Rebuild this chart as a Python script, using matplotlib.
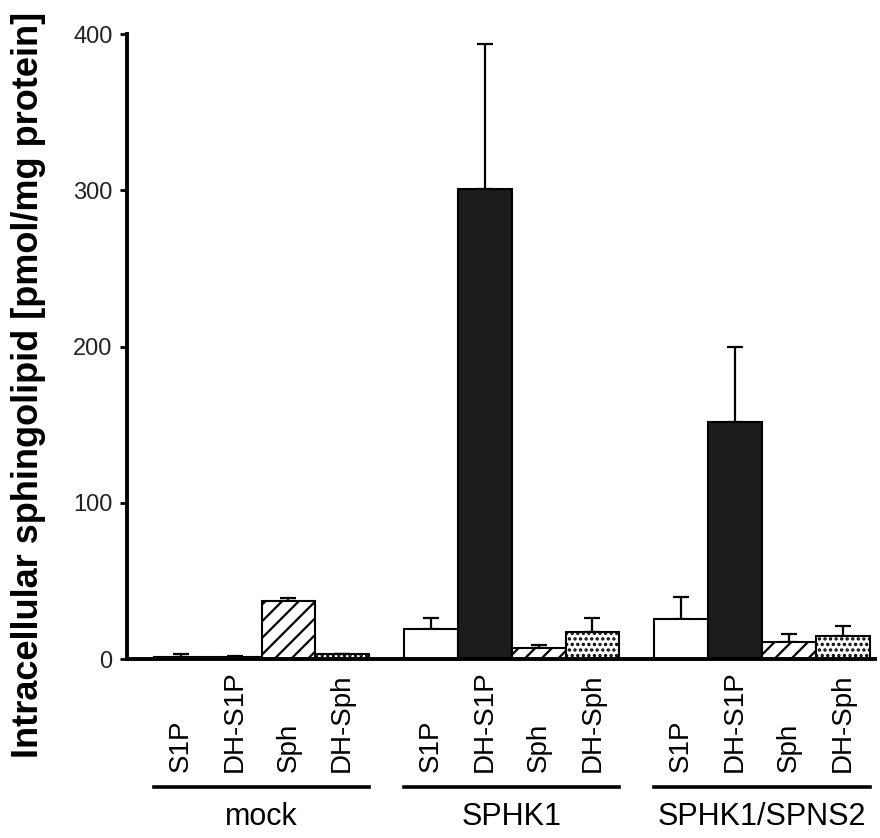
import numpy as np
import matplotlib
matplotlib.use("Agg")
import matplotlib.pyplot as plt
from matplotlib.transforms import blended_transform_factory

groups = ['mock', 'SPHK1', 'SPHK1/SPNS2']
lipids = ['S1P', 'DH-S1P', 'Sph', 'DH-Sph']
means = {
    'mock':        [1.5, 1.0, 37.0, 3.0],
    'SPHK1':       [19.5, 301.0, 6.8, 17.5],
    'SPHK1/SPNS2': [25.5, 152.0, 11.0, 14.5],
}
errs = {
    'mock':        [2.0, 1.0, 2.3, 0.0],
    'SPHK1':       [7.0, 92.5, 2.0, 9.0],
    'SPHK1/SPNS2': [14.0, 47.5, 4.8, 6.4],
}
yticks = [0, 100, 200, 300, 400]

plt.rcParams['font.family'] = ['Liberation Sans', 'DejaVu Sans']
plt.rcParams['hatch.linewidth'] = 1.6

faces = ['white', '#1c1c1c', 'white', 'white']
hatches = [None, None, '//', '...']

fig = plt.figure(figsize=(8.8, 8.38), dpi=100)
ax = fig.add_axes([0.1443, 0.2136, 0.85, 0.7458])

step = 4.65
for g, grp in enumerate(groups):
    xs = g * step + np.arange(4)
    for i in range(4):
        ax.bar(xs[i], means[grp][i], width=1.0, color=faces[i], edgecolor='black',
               linewidth=1.5, hatch=hatches[i], zorder=2)
    ax.errorbar(xs, means[grp], yerr=[np.zeros(4), errs[grp]], fmt='none',
                ecolor='black', elinewidth=1.6, capsize=5.5, capthick=1.6, zorder=1)

ax.set_xlim(-1.0, 2 * step + 3.6)
ax.set_ylim(0, 400)
ax.set_yticks(yticks)
ax.tick_params(axis='y', direction='out', length=5, width=2.0, labelsize=17,
               labelcolor='#222222', pad=5.5)
ax.set_xticks([])
for s in ['top', 'right']:
    ax.spines[s].set_visible(False)
ax.spines['left'].set_linewidth(2.8)
ax.spines['bottom'].set_linewidth(2.8)

ax.set_ylabel('Intracellular sphingolipid [pmol/mg protein]', fontsize=26,
              fontweight='bold')
ax.yaxis.set_label_coords(-0.131, 0.438)
ax.yaxis.label.set_va('center')

tr = blended_transform_factory(ax.transData, fig.transFigure)
for g, grp in enumerate(groups):
    xs = g * step + np.arange(4)
    for i, lab in enumerate(lipids):
        ax.text(xs[i], 1 - 772 / 838, lab, rotation=90, ha='center', va='bottom',
                fontsize=20, transform=tr, clip_on=False)
    ax.plot([xs[0] - 0.5, xs[3] + 0.5], [1 - 787 / 838] * 2, color='black',
            linewidth=2.6, transform=tr, clip_on=False)
    ax.text(xs[0] + 1.5, 1 - 817 / 838, grp, ha='center', va='center',
            fontsize=22, transform=tr, clip_on=False)

fig.savefig('out.png', dpi=100)
